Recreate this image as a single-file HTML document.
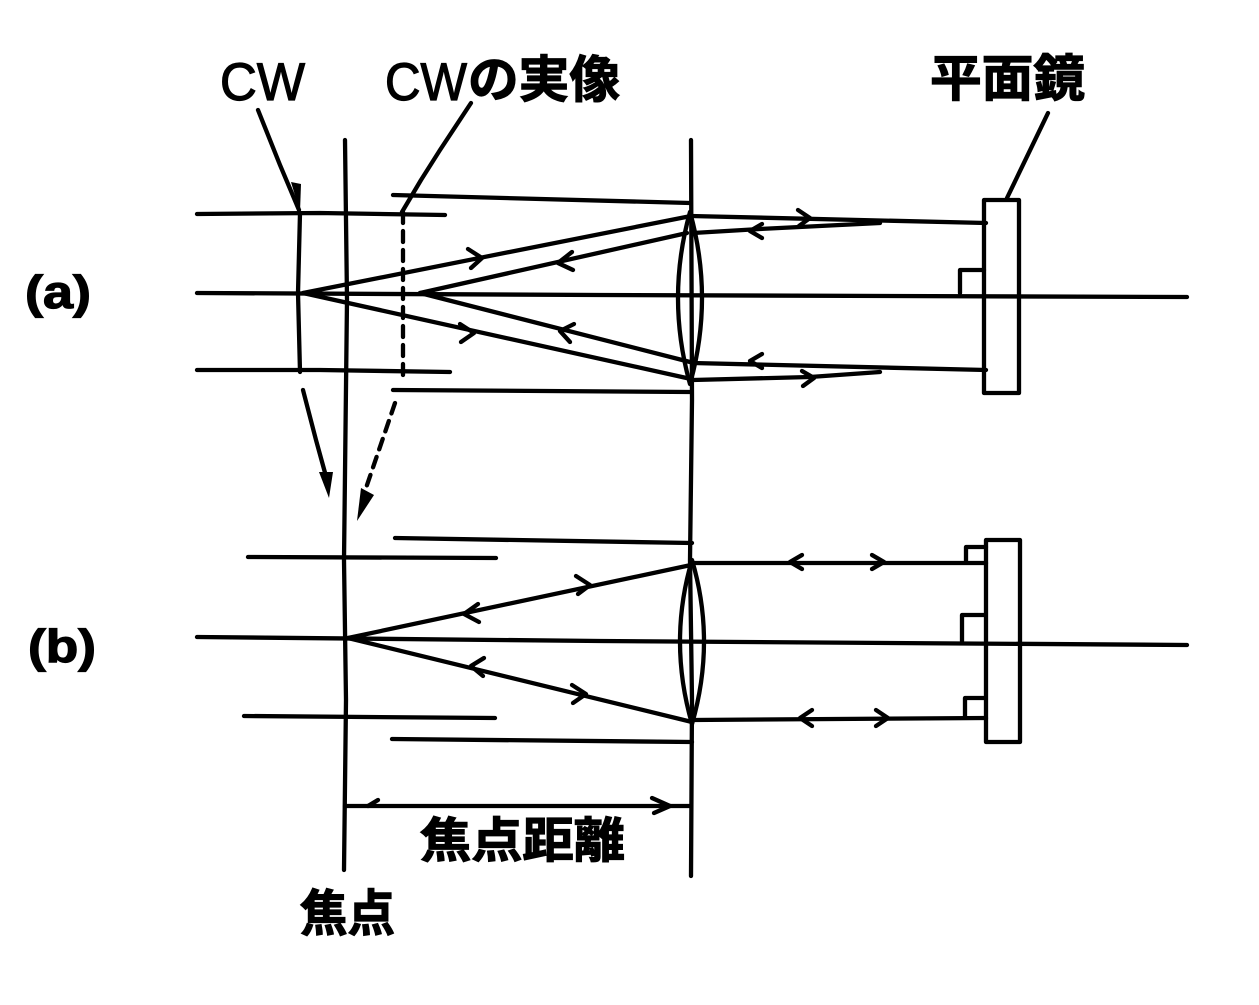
<!DOCTYPE html>
<html><head><meta charset="utf-8"><style>
html,body{margin:0;padding:0;background:#fff;}
svg{display:block;}
.l{fill:none;stroke:#000;stroke-width:4.3;stroke-linecap:round;stroke-linejoin:round;}
.t{fill:#000;stroke:#000;stroke-width:1.2;}
</style></head><body>
<svg width="1259" height="1005" viewBox="0 0 1259 1005" xmlns="http://www.w3.org/2000/svg">
<rect width="1259" height="1005" fill="#fff"/>
<!-- labels -->
<text class="t" x="220" y="100" font-family="Liberation Sans, sans-serif" font-size="53" textLength="85" lengthAdjust="spacingAndGlyphs" stroke-width="2">CW</text>
<text class="t" x="385" y="100" font-family="Liberation Sans, sans-serif" font-size="53" textLength="82" lengthAdjust="spacingAndGlyphs" stroke-width="2">CW</text>
<text class="t" x="468" y="97" font-family="Liberation Sans, 'Noto Sans CJK JP', sans-serif" font-size="50" font-weight="700" textLength="152" lengthAdjust="spacingAndGlyphs">の実像</text>
<text class="t" x="930" y="96" font-family="Liberation Sans, 'Noto Sans CJK JP', sans-serif" font-size="50" font-weight="700" textLength="155" lengthAdjust="spacingAndGlyphs">平面鏡</text>
<text class="t" x="25" y="308" font-family="Liberation Sans, sans-serif" font-size="46" font-weight="700" textLength="66" lengthAdjust="spacingAndGlyphs">(a)</text>
<text class="t" x="28" y="662" font-family="Liberation Sans, sans-serif" font-size="46" font-weight="700" textLength="68" lengthAdjust="spacingAndGlyphs">(b)</text>
<text class="t" x="420" y="857" font-family="Liberation Sans, 'Noto Sans CJK JP', sans-serif" font-size="48" font-weight="700" textLength="205" lengthAdjust="spacingAndGlyphs">焦点距離</text>
<text class="t" x="300" y="931" font-family="Liberation Sans, 'Noto Sans CJK JP', sans-serif" font-size="50" font-weight="700" textLength="95" lengthAdjust="spacingAndGlyphs">焦点</text>

<!-- main verticals -->
<path class="l" d="M345,140 L347,300 L344,560 L346,700 L344,870"/>
<path class="l" d="M691,140 L692,400 L690,560 L692,700 L691,876"/>

<!-- leaders -->
<path class="l" d="M258,110 L280,165 L299,210"/>
<polygon points="291,182 301,184 300,212" fill="#000"/>
<path class="l" d="M471,103 L440,150 L421,180 L402,212"/>
<path class="l" d="M403,212 L403,382" stroke-dasharray="11,8"/>
<path class="l" d="M303,390 L316,440 L327,480"/>
<polygon points="319,472 333,472 329,498" fill="#000"/>
<path class="l" d="M395,403 L366,488" stroke-dasharray="11,8"/>
<polygon points="361,488 374,495 357,521" fill="#000"/>
<path class="l" d="M1048,113 L1007,198"/>

<!-- (a) -->
<path class="l" d="M197,214 L320,213 L445,215"/>
<path class="l" d="M393,195 L690,203"/>
<path class="l" d="M197,370 L320,370 L450,372"/>
<path class="l" d="M393,390 L690,392"/>
<path class="l" d="M197,293 L600,295 L1187,297"/>
<!-- CW element -->
<path class="l" d="M300,213 L298,293 L300,372"/>
<!-- rays -->
<path class="l" d="M303,293 L691,216"/>
<path class="l" d="M303,293 L691,379"/>
<path class="l" d="M420,293 L687,233"/>
<path class="l" d="M420,293 L690,362"/>
<!-- chevrons (a) -->
<path class="l" d="M468,249 L482,258 L471,268"/>
<path class="l" d="M460,324 L474,333 L461,342"/>
<path class="l" d="M572,252 L558,263 L573,270"/>
<path class="l" d="M574,324 L560,331 L570,342"/>
<!-- lens a -->
<path class="l" d="M690,212 Q666,298 690,384 Q714,298 690,212"/>
<!-- after lens a -->
<path class="l" d="M691,216 L986,223"/>
<path class="l" d="M693,233 L760,229 L880,223"/>
<path class="l" d="M693,363 L986,370"/>
<path class="l" d="M693,380 L810,377 L880,372"/>
<path class="l" d="M798,210 L810,218 L799,226"/>
<path class="l" d="M762,224 L750,231 L762,238"/>
<path class="l" d="M762,354 L750,361 L762,368"/>
<path class="l" d="M802,371 L814,378 L803,386"/>
<!-- mirror a -->
<rect x="984" y="200" width="35" height="193" class="l"/>
<path class="l" d="M984,270 L960,270 L960,293"/>

<!-- (b) -->
<path class="l" d="M248,557 L496,558"/>
<path class="l" d="M395,538 L692,543"/>
<path class="l" d="M197,637 L600,641 L1187,645"/>
<path class="l" d="M244,716 L495,718"/>
<path class="l" d="M392,739 L692,742"/>
<path class="l" d="M348,638 L691,565"/>
<path class="l" d="M348,638 L692,722"/>
<path class="l" d="M478,604 L464,614 L479,622"/>
<path class="l" d="M576,576 L590,585 L578,594"/>
<path class="l" d="M484,658 L471,666 L483,676"/>
<path class="l" d="M572,685 L586,694 L573,703"/>
<!-- lens b -->
<path class="l" d="M692,560 Q668,641 692,724 Q716,641 692,560"/>
<!-- after lens b -->
<path class="l" d="M691,563 L986,563"/>
<path class="l" d="M692,720 L986,718"/>
<path class="l" d="M802,555 L790,562 L802,569"/>
<path class="l" d="M872,555 L884,562 L872,569"/>
<path class="l" d="M812,710 L800,718 L812,726"/>
<path class="l" d="M876,710 L888,718 L876,726"/>
<!-- mirror b -->
<rect x="986" y="540" width="34" height="202" class="l"/>
<path class="l" d="M986,547 L966,547 L966,562"/>
<path class="l" d="M984,615 L962,615 L962,641"/>
<path class="l" d="M984,698 L965,698 L965,717"/>

<!-- dimension -->
<path class="l" d="M345,806 L690,806"/>
<path class="l" d="M378,800 L368,806"/>
<path class="l" d="M652,798 L670,806 L654,813"/>
</svg>
</body></html>
